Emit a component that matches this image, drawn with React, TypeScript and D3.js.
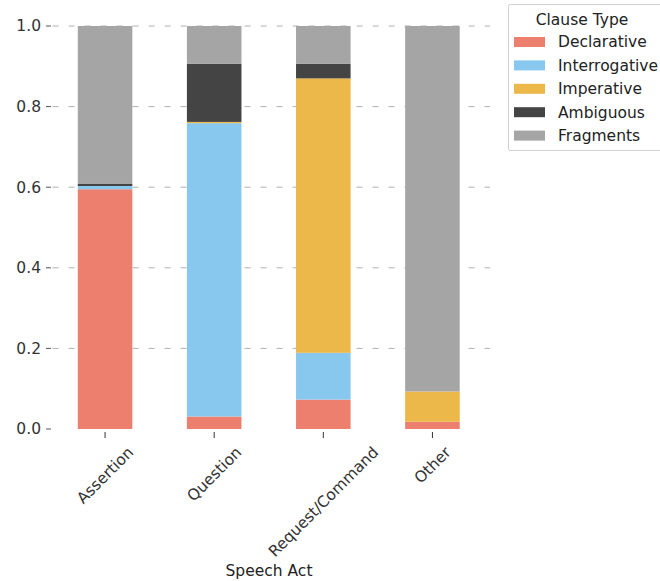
import React from "react";
import * as d3 from "d3";

const categories = ["Assertion", "Question", "Request/Command", "Other"];
const clauseTypes = ["Declarative", "Interrogative", "Imperative", "Ambiguous", "Fragments"];
const declarative = [0.595, 0.031, 0.073, 0.018];
const interrogative = [0.008, 0.728, 0.116, 0.0];
const imperative = [0.0, 0.003, 0.681, 0.075];
const ambiguous = [0.005, 0.144, 0.036, 0.0];
const fragments = [0.392, 0.094, 0.094, 0.907];
const yTicks = [0.0, 0.2, 0.4, 0.6, 0.8, 1.0];
const colors = ["#EC7F6E", "#89C8EE", "#ECB84A", "#444444", "#A5A5A5"];

const FS = 15.5;
const FONT = "DejaVu Sans, sans-serif";

function measure(t: string): number {
  try {
    const c = document.createElement("canvas").getContext("2d")!;
    c.font = `${FS}px "DejaVu Sans"`;
    return c.measureText(t).width;
  } catch (e) {
    return t.length * FS * 0.6;
  }
}

export default function App() {
  const W = 660, H = 581;
  const left = 50.5, right = 487, top = 26, bottom = 429;
  const x = d3.scaleBand<string>().domain(categories).range([left, right]).paddingInner(0.5).paddingOuter(0.25);
  const y = d3.scaleLinear().domain([0, 1]).range([bottom, top]);
  const rows = categories.map((c, i) => ({
    cat: c,
    Declarative: declarative[i],
    Interrogative: interrogative[i],
    Imperative: imperative[i],
    Ambiguous: ambiguous[i],
    Fragments: fragments[i],
  }));
  const series = d3.stack<any>().keys(clauseTypes)(rows);
  return (
    <svg width={W} height={H} style={{ position: "absolute", left: 0, top: 0 }} fontFamily={FONT}>
      <rect width={W} height={H} fill="#fff" />
      {yTicks.filter((t) => t > 0).map((t) => (
        <line key={"g" + t} x1={left + 2} x2={right + 3} y1={y(t)} y2={y(t)} stroke="#b0b0b0" strokeWidth={1} strokeDasharray="6,10" />
      ))}
      {series.map((s, si) =>
        s.map((d, i) => (
          <rect key={si + "-" + i} x={x(categories[i])} width={x.bandwidth()} y={y(d[1])} height={Math.max(0, y(d[0]) - y(d[1]))} fill={colors[si]} />
        ))
      )}
      {yTicks.map((t) => (
        <g key={"y" + t}>
          <line x1={46} x2={51} y1={y(t)} y2={y(t)} stroke="#555" />
          <text x={41} y={y(t)} dy="0.35em" textAnchor="end" fontSize={FS} fill="#333">{t.toFixed(1)}</text>
        </g>
      ))}
      {categories.map((c) => {
        const cx = x(c)! + x.bandwidth() / 2;
        const w = measure(c);
        const h = FS * 1.17;
        const cy = 443 + (w + h) / (2 * Math.SQRT2);
        return (
          <g key={c}>
            <line x1={cx} x2={cx} y1={432} y2={438} stroke="#333" />
            <text transform={`translate(${cx},${cy}) rotate(-45)`} textAnchor="middle" fontSize={FS} fill="#333" dy="0.35em">{c}</text>
          </g>
        );
      })}
      <text x={269} y={576} textAnchor="middle" fontSize={FS} fill="#222">Speech Act</text>
      <rect x={508.5} y={4.5} width={160} height={146} fill="#fff" stroke="#d0d0d0" rx={2} />
      <text x={582} y={25} textAnchor="middle" fontSize={FS} fill="#222">Clause Type</text>
      {clauseTypes.map((k, i) => (
        <g key={k}>
          <rect x={514} y={37 + i * 23.4} width={31} height={10} fill={colors[i]} />
          <text x={558} y={42 + i * 23.4} dy="0.35em" fontSize={FS} fill="#222">{k}</text>
        </g>
      ))}
    </svg>
  );
}
